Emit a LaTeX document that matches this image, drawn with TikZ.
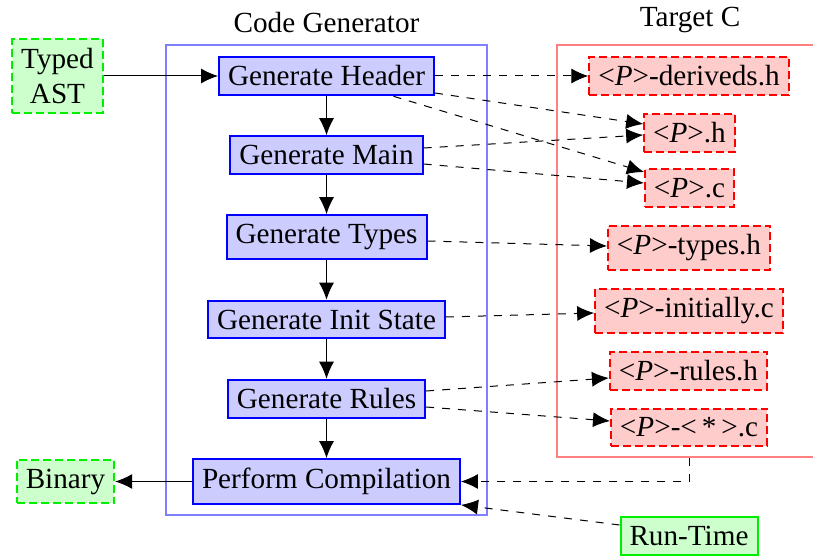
\documentclass[tikz,border=0pt]{standalone}
\usepackage{fontspec}
\setmainfont{Liberation Serif}
\usetikzlibrary{arrows.meta,calc}

\definecolor{genfill}{HTML}{CCCCFF}
\definecolor{outfill}{HTML}{FFCCCC}
\definecolor{iofill}{HTML}{CCFFCC}
\definecolor{iogreen}{HTML}{00EE00}
\definecolor{cgframe}{HTML}{8080FF}
\definecolor{tcframe}{HTML}{FF8080}

\newcommand\pname{<\textit{P}>}

\tikzset{
  txt/.style={font=\fontsize{14.6pt}{17.5pt}\selectfont},
  base/.style={txt, inner sep=4.5pt, line width=1pt},
  gen/.style={base, draw=blue, fill=genfill},
  outfile/.style={base, draw=red, fill=outfill, dash pattern=on 4pt off 2pt},
  io/.style={base, draw=iogreen, fill=iofill},
  iodash/.style={io, dash pattern=on 4pt off 2pt},
  frame/.style={draw, line width=1pt, inner sep=0pt},
  flow/.style={-{Latex[length=8.5pt,width=7.5pt]}, line width=0.5pt},
  dep/.style={flow, dash pattern=on 4pt off 4pt},
}

\begin{document}
\begin{tikzpicture}[x=0.5pt,y=-0.5pt]
\useasboundingbox (0,0) rectangle (813,556);

% group frames and their titles
\node[frame, draw=cgframe, minimum width=160.5pt, minimum height=235pt] (cg) at (326.5,280) {};
\node[frame, draw=tcframe, minimum width=132.5pt, minimum height=206pt] (tc) at (689.5,251) {};
\node[txt, anchor=base] (cglabel) at (326.5,33) {Code Generator};
\node[txt, anchor=base] (tclabel) at (690,27) {Target C};

% generator stages
\node[gen] (hdr)   at (326.5,76)    {Generate Header};
\node[gen] (main)  at (326.5,155)   {Generate Main};
\node[gen] (types) at (326.5,237)   {Generate Types};
\node[gen] (init)  at (326.5,319.5) {Generate Init State};
\node[gen] (rules) at (326.5,399)   {Generate Rules};
\node[gen] (pc)    at (326.5,481.5) {Perform Compilation};

% inputs and outputs
\node[iodash, align=center] (ast) at (57.5,76) {Typed\\AST};
\node[iodash] (bin) at (65.5,481.5) {Binary};
\node[io] (rt) at (689,536) {Run-Time};

% generated files
\node[outfile] (fder)   at (689,76)    {\pname-deriveds.h};
\node[outfile] (fh)     at (689.5,133) {\pname.h};
\node[outfile] (fc)     at (689.5,188) {\pname.c};
\node[outfile] (ftypes) at (689,248)   {\pname-types.h};
\node[outfile] (finit)  at (689,311)   {\pname-initially.c};
\node[outfile] (frules) at (688.5,371) {\pname-rules.h};
\node[outfile] (fstar)  at (689,427.5) {\pname-<\,*\,>.c};

% control flow
\draw[flow] (ast) -- (hdr);
\draw[flow] (hdr) -- (main);
\draw[flow] (main) -- (types);
\draw[flow] (types) -- (init);
\draw[flow] (init) -- (rules);
\draw[flow] (rules) -- (pc);
\draw[flow] (pc) -- (bin);

% produced files
\draw[dep] (hdr) -- (fder);
\draw[dep] ($(hdr.east)+(0,17)$) -- ($(fh.west)+(0,-9)$);
\draw[dep] ($(hdr.south)+(67,0)$) -- ($(fc.west)+(0,-16)$);
\draw[dep] ($(main.east)+(0,-7)$) -- ($(fh.west)+(0,2)$);
\draw[dep] ($(main.east)+(0,9)$) -- ($(fc.west)+(0,-5)$);
\draw[dep] ($(types.east)+(0,4)$) -- ($(ftypes.west)+(0,-2)$);
\draw[dep] ($(init.east)+(0,-2.5)$) -- ($(finit.west)+(0,2)$);
\draw[dep] ($(rules.east)+(0,-8)$) -- ($(frules.west)+(0,7)$);
\draw[dep] ($(rules.east)+(0,8)$) -- ($(fstar.west)+(0,-6.5)$);

% compilation inputs
\draw[dep] (tc.south) |- (pc.east);
\draw[dep] ($(rt.west)+(0,-11)$) -- (pc.south east);
\end{tikzpicture}
\end{document}
